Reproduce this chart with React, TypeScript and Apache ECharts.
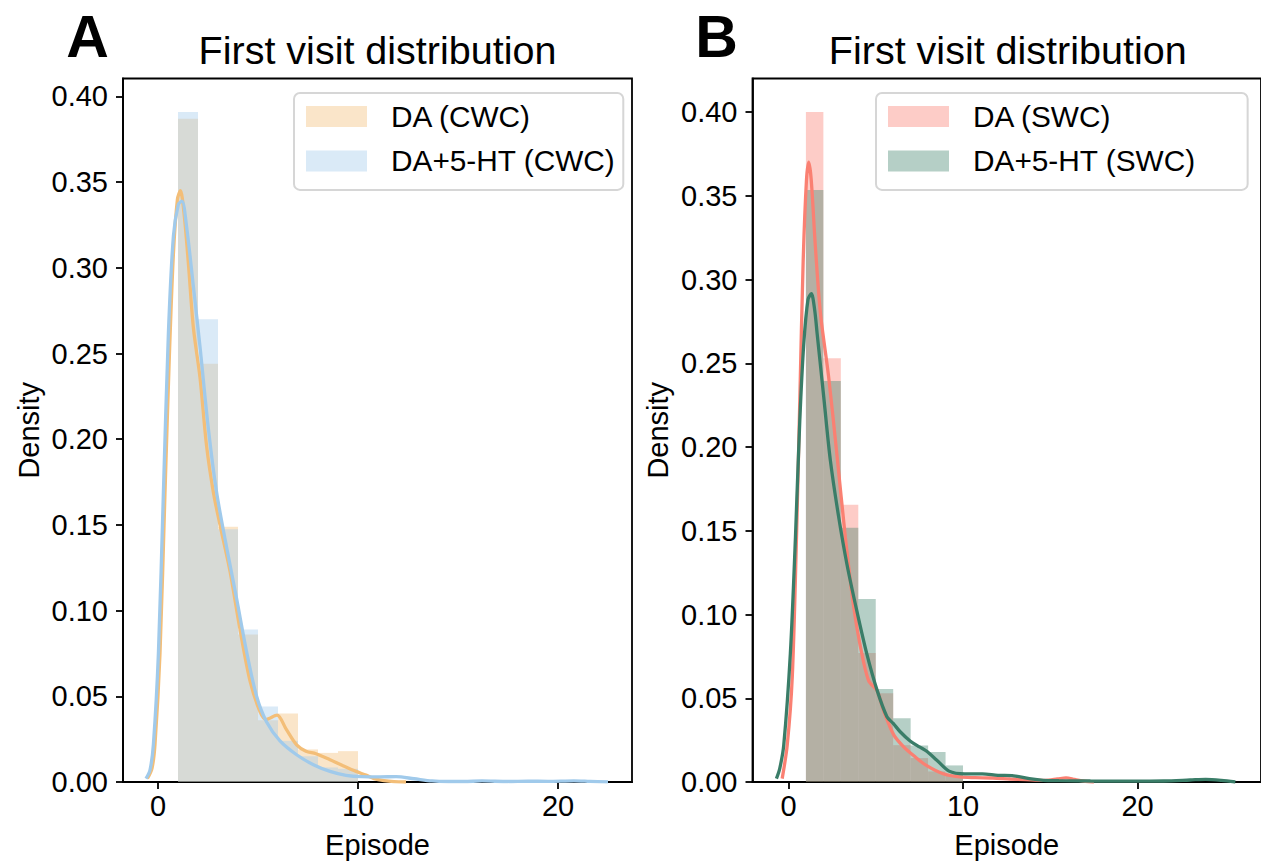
import React, { useEffect, useRef } from "react";
import * as echarts from "echarts";

// ---------- data ----------
const binWidth = 1;
const binStartsA = [1, 2, 3, 4, 5, 6, 7, 8, 9];
const histDA_CWC = [0.387, 0.244, 0.149, 0.086, 0.036, 0.04, 0.019, 0.017, 0.018];
const histDA5HT_CWC = [0.391, 0.27, 0.1475, 0.089, 0.044, 0.024, 0.015, 0.0085, 0.0077];

const binStartsB = [1, 2, 3, 4, 5, 6, 7, 8, 9];
const histDA_SWC = [0.4, 0.253, 0.1655, 0.077, 0.053, 0.022, 0.0143, 0.0063, 0.0046];
const histDA5HT_SWC = [0.3535, 0.2394, 0.1518, 0.1092, 0.0555, 0.0381, 0.0218, 0.0179, 0.0099];

const kdeX_DA_CWC = [-0.53, -0.3, -0.15, 0.1, 0.35, 0.57, 0.77, 0.97, 1.12, 1.3, 1.52, 1.77, 2.1, 2.43, 2.77, 3.1, 3.6, 4.1, 4.6, 5.1, 5.4, 5.95, 6.4, 6.93, 7.4, 7.9, 8.6, 9.2, 9.9, 10.4, 10.8, 11.3, 11.8, 12.4];
const kdeY_DA_CWC = [0.002, 0.008, 0.022, 0.075, 0.169, 0.249, 0.308, 0.34, 0.345, 0.332, 0.3025, 0.265, 0.236, 0.196, 0.169, 0.15, 0.123, 0.089, 0.059, 0.041, 0.0365, 0.039, 0.031, 0.0217, 0.018, 0.0165, 0.013, 0.0098, 0.0062, 0.004, 0.002, 0.0008, 0.0002, 0];

const kdeX_DA5HT_CWC = [-0.6, -0.4, -0.23, 0.02, 0.27, 0.52, 0.77, 1.02, 1.2, 1.43, 1.77, 2.1, 2.52, 2.93, 3.43, 3.93, 4.43, 4.93, 5.43, 6.1, 6.93, 7.77, 8.6, 9.4, 10.2, 11.1, 11.9, 12.8, 13.7, 14.5, 15.3, 16.2, 17.5, 18.5, 19.5, 20.8, 21.6, 22.5];
const kdeY_DA5HT_CWC = [0.002, 0.007, 0.022, 0.075, 0.169, 0.262, 0.3185, 0.337, 0.339, 0.324, 0.289, 0.254, 0.206, 0.169, 0.137, 0.107, 0.076, 0.05, 0.035, 0.024, 0.0159, 0.0101, 0.0062, 0.0039, 0.0031, 0.003, 0.0031, 0.0019, 0.0006, 0.0003, 0.0003, 0.0006, 0.0003, 0.0005, 0.0004, 0.0007, 0.0004, 0.0001];

const kdeX_DA_SWC = [-0.36, -0.07, 0.22, 0.46, 0.65, 0.84, 1.03, 1.16, 1.3, 1.54, 1.83, 2.3, 2.78, 3.26, 3.73, 4.1, 4.59, 5.07, 5.47, 6.04, 6.6, 7.2, 7.9, 8.86, 9.8, 10.7, 11.7, 12.7, 13.6, 14.7, 15.4, 15.9, 16.4, 16.9, 17.5];
const kdeY_DA_SWC = [0.002, 0.022, 0.063, 0.146, 0.228, 0.31, 0.359, 0.37, 0.36, 0.32, 0.28, 0.242, 0.195, 0.146, 0.105, 0.082, 0.0605, 0.0546, 0.042, 0.028, 0.021, 0.0155, 0.0099, 0.0049, 0.003, 0.0026, 0.0024, 0.0018, 0.0014, 0.001, 0.0018, 0.0025, 0.0015, 0.0006, 0];

const kdeX_DA5HT_SWC = [-0.69, -0.5, -0.27, 0.11, 0.4, 0.65, 0.88, 1.12, 1.31, 1.5, 1.64, 2.02, 2.4, 2.88, 3.35, 3.92, 4.5, 5.07, 5.64, 6.0, 6.4, 6.97, 7.5, 7.9, 8.5, 9.2, 10.1, 11.1, 12.0, 12.9, 13.8, 14.6, 15.5, 17.3, 19.5, 21.5, 23.0, 23.9, 24.8, 25.6];
const kdeY_DA5HT_SWC = [0.002, 0.008, 0.022, 0.077, 0.146, 0.216, 0.262, 0.288, 0.2915, 0.282, 0.268, 0.23, 0.192, 0.158, 0.13, 0.102, 0.076, 0.055, 0.039, 0.035, 0.03, 0.0245, 0.021, 0.0185, 0.013, 0.0065, 0.0049, 0.0049, 0.004, 0.0037, 0.002, 0.001, 0.0008, 0.0006, 0.0005, 0.0006, 0.0012, 0.0016, 0.001, 0];

const xTicks = [0, 10, 20];
const yTicks = [0, 0.05, 0.1, 0.15, 0.2, 0.25, 0.3, 0.35, 0.4];

const title = "First visit distribution";
const namesA = ["DA (CWC)", "DA+5-HT (CWC)"];
const namesB = ["DA (SWC)", "DA+5-HT (SWC)"];

// ---------- styles ----------
const FONT = "'Liberation Sans', Arial, Helvetica, sans-serif";
const FS = 29;
const ORANGE = "#f3be78";
const BLUE = "#a0caeb";
const SALMON = "#fa8072";
const GREEN = "#3a7d68";
const ORANGE_BAR = "rgba(242,190,120,0.4)";
const BLUE_BAR = "rgba(162,202,235,0.4)";
const SALMON_BAR = "rgba(250,128,114,0.4)";
const GREEN_BAR = "rgba(69,135,113,0.4)";

function histSeries(name: string, idx: number, starts: number[], vals: number[], color: string) {
  return {
    type: "custom",
    name,
    xAxisIndex: idx,
    yAxisIndex: idx,
    itemStyle: { color },
    encode: { x: [0, 1], y: 2 },
    data: starts.map((s, i) => [s, s + binWidth, vals[i]]),
    renderItem: (params: any, api: any) => {
      const p0 = api.coord([api.value(0), api.value(2)]);
      const p1 = api.coord([api.value(1), 0]);
      return {
        type: "rect",
        shape: { x: p0[0], y: p0[1], width: p1[0] - p0[0], height: p1[1] - p0[1] },
        style: { fill: color },
      };
    },
    silent: true,
  };
}

function kdeSeries(name: string, idx: number, xs: number[], ys: number[], color: string) {
  return {
    type: "line",
    name,
    xAxisIndex: idx,
    yAxisIndex: idx,
    data: xs.map((x, i) => [x, ys[i]]),
    showSymbol: false,
    smooth: 0.3,
    lineStyle: { color, width: 3.3 },
    itemStyle: { color },
    silent: true,
  };
}

function xAxisCfg(idx: number, min: number, max: number) {
  return {
    type: "value",
    gridIndex: idx,
    min,
    max,
    name: "Episode",
    nameLocation: "middle",
    nameGap: 48,
    nameTextStyle: { color: "#000", fontSize: FS, fontFamily: FONT },
    axisLine: { show: true, onZero: false, lineStyle: { color: "#000", width: 1.8 } },
    axisTick: { show: true, length: 7, customValues: xTicks, lineStyle: { color: "#000", width: 1.8 } },
    axisLabel: { color: "#000", fontSize: FS, fontFamily: FONT, margin: 9, customValues: xTicks },
    splitLine: { show: false },
  };
}

function yAxisCfg(idx: number, max: number) {
  return {
    type: "value",
    gridIndex: idx,
    min: 0,
    max,
    name: "Density",
    nameLocation: "middle",
    nameGap: 80,
    nameTextStyle: { color: "#000", fontSize: FS, fontFamily: FONT },
    axisLine: { show: true, onZero: false, lineStyle: { color: "#000", width: 1.8 } },
    axisTick: { show: true, length: 7, customValues: yTicks, lineStyle: { color: "#000", width: 1.8 } },
    axisLabel: {
      color: "#000",
      fontSize: FS,
      fontFamily: FONT,
      margin: 15,
      customValues: yTicks,
      formatter: (v: number) => v.toFixed(2),
    },
    splitLine: { show: false },
  };
}

function legendCfg(left: number, names: string[], padRight: number) {
  return {
    left,
    top: 93,
    orient: "vertical",
    data: names,
    icon: "rect",
    itemWidth: 61,
    itemHeight: 21,
    itemGap: 14.4,
    selectedMode: false,
    padding: [8.5, padRight, 14, 12],
    backgroundColor: "rgba(255,255,255,0.8)",
    borderColor: "#d6d6d6",
    borderWidth: 2,
    borderRadius: 6,
    textStyle: { color: "#000", fontSize: 29.8, fontFamily: FONT, lineHeight: 29, padding: [0, 0, 0, 19] },
  };
}

export default function App() {
  const ref = useRef<HTMLDivElement>(null);
  useEffect(() => {
    if (!ref.current) return;
    const chart = echarts.init(ref.current, undefined, { renderer: "svg" });
    const option: any = {
      animation: false,
      backgroundColor: "#fff",
      grid: [
        { left: 123, top: 78.5, width: 509, height: 706, show: true, borderColor: "#000", borderWidth: 1.8, backgroundColor: "transparent" },
        { left: 752.5, top: 78.5, width: 510.5, height: 706, show: true, borderColor: "#000", borderWidth: 1.8, backgroundColor: "transparent" },
      ],
      xAxis: [xAxisCfg(0, -1.75, 23.7), xAxisCfg(1, -2.06, 27.07)],
      yAxis: [yAxisCfg(0, 0.4105), yAxisCfg(1, 0.42)],
      legend: [legendCfg(294, namesA, 8), legendCfg(876, namesB, 52)],
      graphic: [
        { type: "text", x: 87.5, y: 36.5, style: { text: "A", fontSize: 59, fontWeight: "bold", fontFamily: FONT, fill: "#000", align: "center", verticalAlign: "middle" } },
        { type: "text", x: 716.5, y: 36.5, style: { text: "B", fontSize: 59, fontWeight: "bold", fontFamily: FONT, fill: "#000", align: "center", verticalAlign: "middle" } },
        { type: "text", x: 377.5, y: 50, style: { text: title, fontSize: 39.5, fontFamily: FONT, fill: "#000", align: "center", verticalAlign: "middle" } },
        { type: "text", x: 1007.75, y: 50, style: { text: title, fontSize: 39.5, fontFamily: FONT, fill: "#000", align: "center", verticalAlign: "middle" } },
      ],
      series: [
        histSeries(namesA[0], 0, binStartsA, histDA_CWC, ORANGE_BAR),
        kdeSeries("kde " + namesA[0], 0, kdeX_DA_CWC, kdeY_DA_CWC, ORANGE),
        histSeries(namesA[1], 0, binStartsA, histDA5HT_CWC, BLUE_BAR),
        kdeSeries("kde " + namesA[1], 0, kdeX_DA5HT_CWC, kdeY_DA5HT_CWC, BLUE),
        histSeries(namesB[0], 1, binStartsB, histDA_SWC, SALMON_BAR),
        kdeSeries("kde " + namesB[0], 1, kdeX_DA_SWC, kdeY_DA_SWC, SALMON),
        histSeries(namesB[1], 1, binStartsB, histDA5HT_SWC, GREEN_BAR),
        kdeSeries("kde " + namesB[1], 1, kdeX_DA5HT_SWC, kdeY_DA5HT_SWC, GREEN),
      ],
    };
    chart.setOption(option);
    return () => chart.dispose();
  }, []);
  return (
    <div
      ref={ref}
      style={{ position: "fixed", left: 0, top: 0, width: 1261, height: 864, background: "#fff" }}
    />
  );
}
